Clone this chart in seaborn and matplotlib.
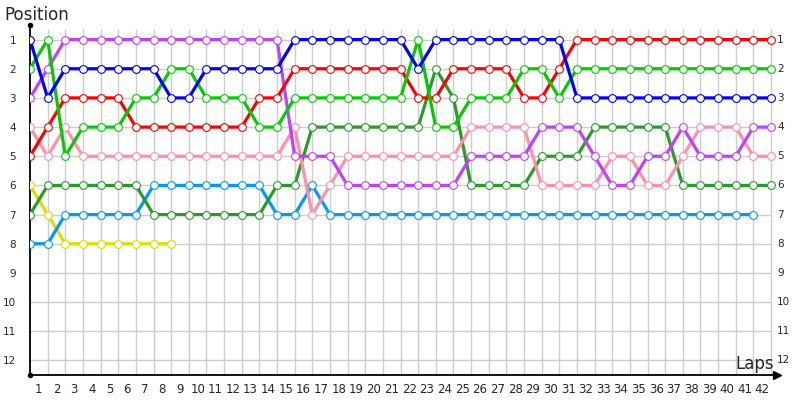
import seaborn as sns
import matplotlib.pyplot as plt
import matplotlib.transforms as mtransforms
import numpy as np
import pandas as pd

nan = np.nan
laps = list(range(0, 43))
positions = list(range(1, 13))
lap_labels = [str(i) for i in range(1, 43)]

# position of each car at every lap (lap 0 = grid)
blue = [1, 3, 2, 2, 2, 2, 2, 2, 3, 3, 2, 2, 2, 2, 2, 1, 1, 1, 1, 1, 1, 1, 2, 1, 1, 1, 1, 1, 1, 1, 1,
        3, 3, 3, 3, 3, 3, 3, 3, 3, 3, 3, 3]
green = [2, 1, 5, 4, 4, 4, 3, 3, 2, 2, 3, 3, 3, 4, 4, 3, 3, 3, 3, 3, 3, 3, 1, 4, 4, 3, 3, 3, 2, 2, 3,
         2, 2, 2, 2, 2, 2, 2, 2, 2, 2, 2, 2]
red = [5, 4, 3, 3, 3, 3, 4, 4, 4, 4, 4, 4, 4, 3, 3, 2, 2, 2, 2, 2, 2, 2, 3, 3, 2, 2, 2, 2, 3, 3, 2,
       1, 1, 1, 1, 1, 1, 1, 1, 1, 1, 1, 1]
purple = [3, 2, 1, 1, 1, 1, 1, 1, 1, 1, 1, 1, 1, 1, 1, 5, 5, 5, 6, 6, 6, 6, 6, 6, 6, 5, 5, 5, 5, 4, 4,
          4, 5, 6, 6, 5, 5, 4, 5, 5, 5, 4, 4]
pink = [4, 5, 4, 5, 5, 5, 5, 5, 5, 5, 5, 5, 5, 5, 5, 4, 7, 6, 5, 5, 5, 5, 5, 5, 5, 4, 4, 4, 4, 6, 6,
        6, 6, 5, 5, 6, 6, 5, 4, 4, 4, 5, 5]
dkgreen = [7, 6, 6, 6, 6, 6, 6, 7, 7, 7, 7, 7, 7, 7, 6, 6, 4, 4, 4, 4, 4, 4, 4, 2, 3, 6, 6, 6, 6, 5, 5,
           5, 4, 4, 4, 4, 4, 6, 6, 6, 6, 6, 6]
ltblue = [8, 8, 7, 7, 7, 7, 7, 6, 6, 6, 6, 6, 6, 6, 7, 7, 6, 7, 7, 7, 7, 7, 7, 7, 7, 7, 7, 7, 7, 7, 7,
          7, 7, 7, 7, 7, 7, 7, 7, 7, 7, 7, nan]
yellow = [6, 7, 8, 8, 8, 8, 8, 8, 8, nan, nan, nan, nan, nan, nan, nan, nan, nan, nan, nan, nan, nan,
          nan, nan, nan, nan, nan, nan, nan, nan, nan, nan, nan, nan, nan, nan, nan, nan, nan, nan,
          nan, nan, nan]

series = {
    'yellow': (yellow, '#dddd00'),
    'ltblue': (ltblue, '#0099ff'),
    'dkgreen': (dkgreen, '#2a9a2a'),
    'pink': (pink, '#ff8fab'),
    'purple': (purple, '#c040ff'),
    'red': (red, '#ff0000'),
    'green': (green, '#00cc00'),
    'blue': (blue, '#0000ff'),
}

df = pd.DataFrame({name: vals for name, (vals, c) in series.items()})
df['Lap'] = laps
df = df.melt(id_vars='Lap', var_name='Driver', value_name='Position')

sns.set_style('white')
plt.rcParams['font.family'] = ['DejaVu Sans']

fig = plt.figure(figsize=(8, 4), dpi=100)
ax = fig.add_axes([0.0375, 0.0625, 0.934, 0.875])

# grid
ax.vlines(laps[1:], 0.65, 12.5, color='#cccccc', lw=1, zorder=0)
ax.hlines(positions, 0, 42, color='#cccccc', lw=1, zorder=0)

for name, (vals, c) in series.items():
    sub = df[df['Driver'] == name]
    sns.lineplot(data=sub, x='Lap', y='Position', color=c, lw=2.3, marker='o',
                 markersize=5.6, markerfacecolor='white', markeredgecolor=c,
                 markeredgewidth=0.8, sort=False, estimator=None, ax=ax, zorder=3)

ax.set_xlim(0, 42.35)
ax.set_ylim(12.5, 0.5)
ax.set_yticks(positions)
ax.set_yticklabels([str(p) for p in positions], fontsize=7.5)
ax.tick_params(axis='y', length=0, pad=10)
ax.set_xticks([l - 0.5 for l in laps[1:]])
ax.set_xticklabels(lap_labels, fontsize=8.5)
ax.tick_params(axis='x', length=0, pad=6)
ax.set_xlabel('')
ax.set_ylabel('')

# position labels on the right side
trans = mtransforms.blended_transform_factory(ax.transAxes, ax.transData)
for p in positions:
    ax.text(1.0, p, str(p), transform=trans, fontsize=7.5, ha='left', va='center')

for s in ['top', 'right']:
    ax.spines[s].set_visible(False)
ax.spines['left'].set_color('black')
ax.spines['bottom'].set_color('black')
ax.spines['left'].set_linewidth(1.3)
ax.spines['bottom'].set_linewidth(1.3)
ax.plot(1, 0, '>', color='black', ms=6, transform=ax.transAxes, clip_on=False)
ax.plot(0, 1, 'o', color='black', ms=3, transform=ax.transAxes, clip_on=False)
ax.plot(0, 0, 'o', color='black', ms=3, transform=ax.transAxes, clip_on=False)

fig.text(0.006, 0.962, 'Position', fontsize=12, va='center', ha='left')
fig.text(0.968, 0.09, 'Laps', fontsize=12, va='center', ha='right')

fig.savefig('out.png', dpi=100)
